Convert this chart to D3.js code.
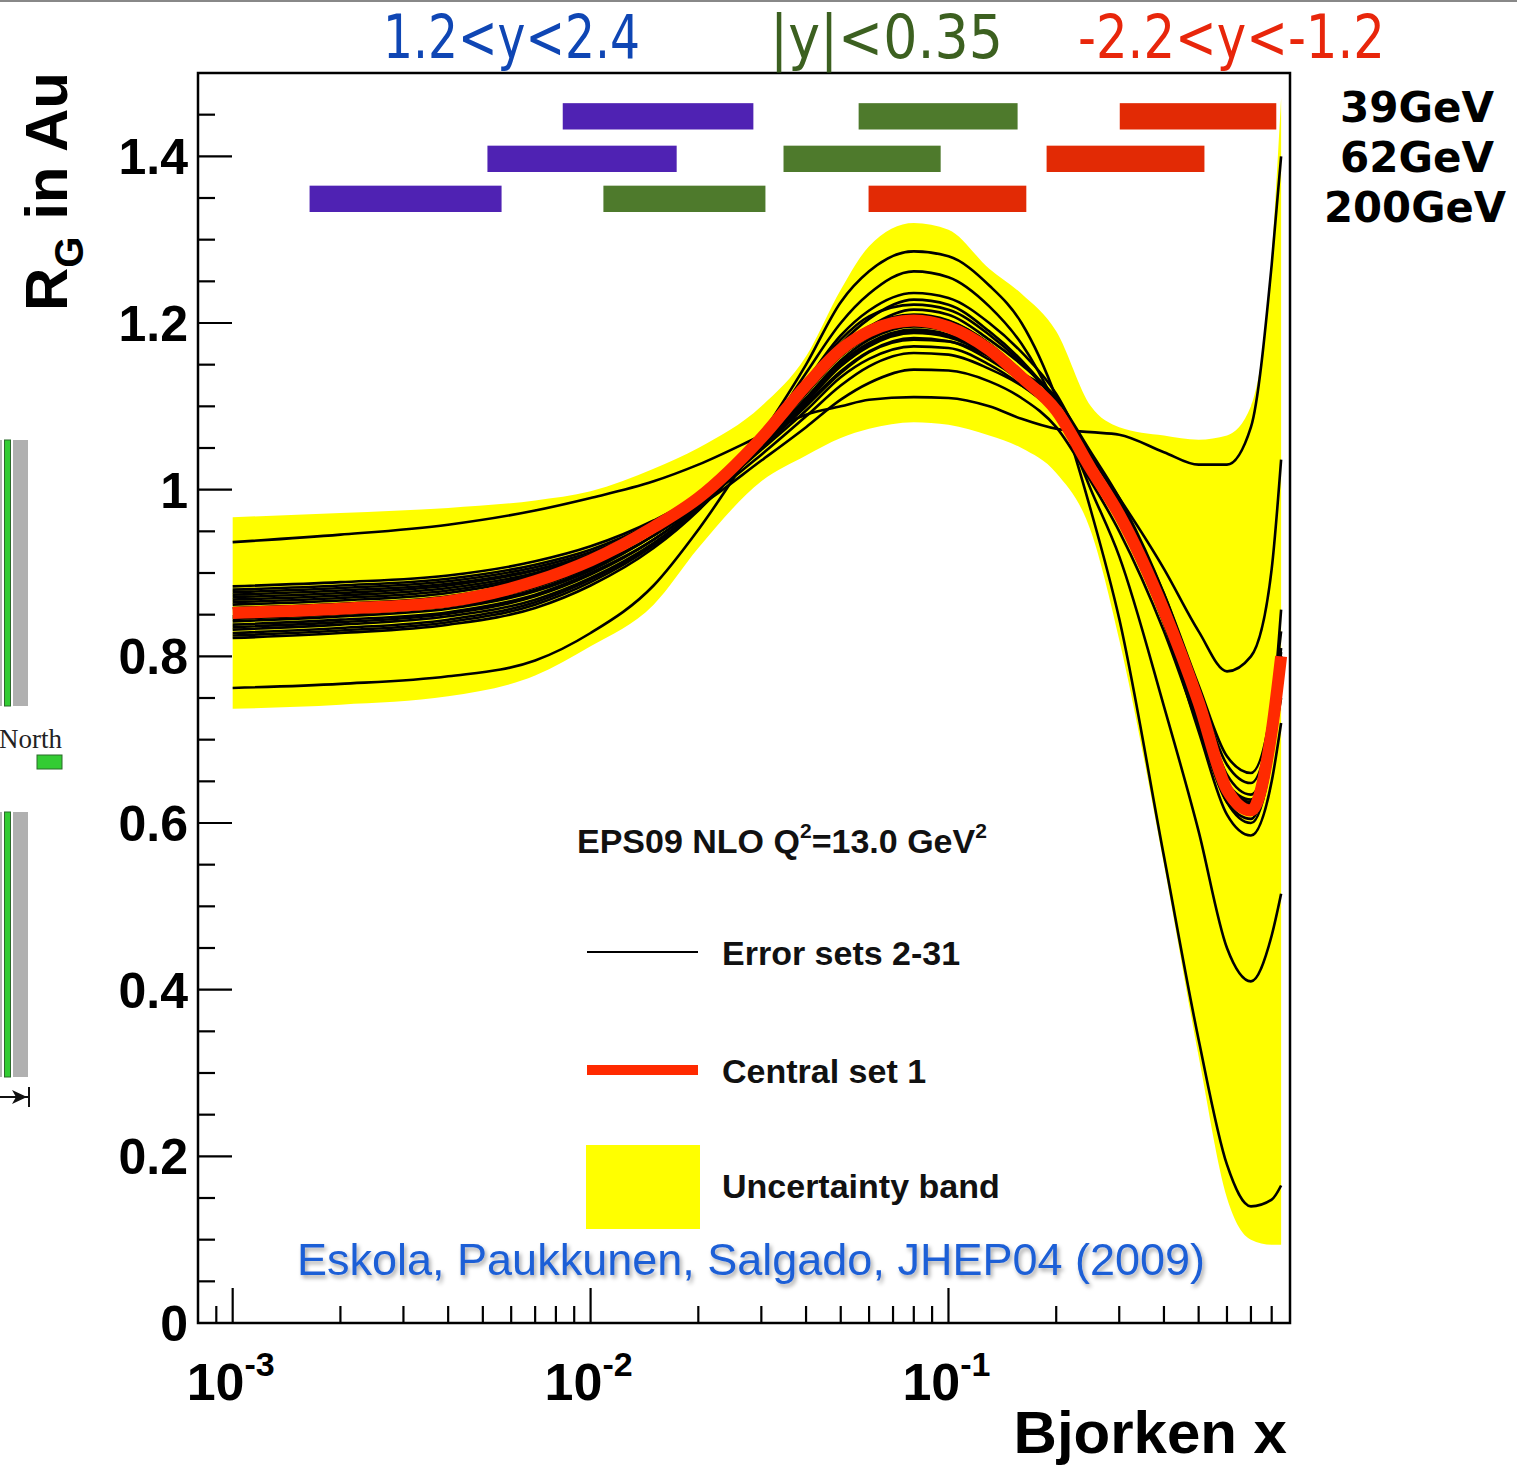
<!DOCTYPE html>
<html>
<head>
<meta charset="utf-8">
<script src="https://cdn.jsdelivr.net/npm/d3@7"></script>
<style>
  html, body { margin: 0; padding: 0; background: #ffffff; }
  svg { display: block; }
</style>
</head>
<body>
<svg id="chart" width="1517" height="1468"></svg>
<script>
// ---------------- data ----------------
const xGrid = [0.001, 0.002, 0.004, 0.007, 0.01, 0.015, 0.02, 0.03, 0.04, 0.05, 0.06, 0.08,
               0.1, 0.13, 0.16, 0.2, 0.25, 0.3, 0.4, 0.5, 0.6, 0.7, 0.8, 0.85];

const centralSet = [0.852,0.857,0.866,0.890,0.915,0.955,0.990,1.062,1.125,1.168,1.190,1.203,
                    1.195,1.168,1.135,1.095,1.025,0.970,0.855,0.745,0.640,0.615,0.710,0.800];

const bandUpper = [0.967,0.972,0.978,0.987,0.998,1.025,1.050,1.100,1.160,1.240,1.292,1.320,
                   1.312,1.265,1.235,1.190,1.100,1.075,1.065,1.060,1.065,1.100,1.280,1.470];
const bandLower = [0.737,0.742,0.752,0.777,0.812,0.862,0.930,1.010,1.041,1.062,1.073,1.081,
                   1.078,1.065,1.050,1.020,0.950,0.820,0.550,0.320,0.150,0.100,0.094,0.094];

const errSetA = [0.937,0.946,0.958,0.975,0.990,1.010,1.030,1.065,1.090,1.100,1.108,1.111,
                 1.110,1.100,1.085,1.073,1.069,1.066,1.045,1.030,1.030,1.075,1.270,1.400];
const errSetB = [0.762,0.767,0.776,0.795,0.828,0.885,0.952,1.065,1.150,1.225,1.262,1.286,
                 1.280,1.245,1.200,1.110,0.975,0.845,0.560,0.340,0.190,0.140,0.148,0.165];
const errSetC = [0.822,0.828,0.838,0.858,0.885,0.930,0.975,1.060,1.140,1.200,1.235,1.262,
                 1.255,1.220,1.175,1.100,1.000,0.920,0.740,0.590,0.450,0.410,0.465,0.515];
const errSetD = [0.828,0.834,0.844,0.865,0.892,0.935,0.978,1.060,1.130,1.185,1.215,1.236,
                 1.230,1.200,1.165,1.115,1.035,0.970,0.840,0.710,0.610,0.585,0.650,0.720];
const errSetE = [0.835,0.841,0.851,0.872,0.898,0.940,0.980,1.058,1.125,1.175,1.205,1.228,
                 1.222,1.190,1.155,1.105,1.030,0.970,0.850,0.730,0.645,0.625,0.700,0.780];
const errSetF = [0.842,0.848,0.857,0.878,0.903,0.945,0.982,1.058,1.120,1.168,1.195,1.216,
                 1.210,1.180,1.150,1.110,1.045,0.990,0.875,0.760,0.670,0.648,0.730,0.856];
const errSetG = [0.848,0.853,0.862,0.883,0.907,0.945,0.982,1.050,1.105,1.148,1.172,1.188,
                 1.183,1.160,1.130,1.090,1.020,0.960,0.840,0.720,0.625,0.600,0.680,0.780];
const errSetH = [0.858,0.863,0.872,0.893,0.916,0.950,0.985,1.050,1.100,1.140,1.165,1.180,
                 1.178,1.160,1.140,1.110,1.040,0.990,0.905,0.830,0.782,0.800,0.905,1.036];
const errSetI = [0.862,0.867,0.876,0.896,0.918,0.952,0.985,1.048,1.095,1.135,1.157,1.172,
                 1.170,1.150,1.125,1.090,1.025,0.965,0.850,0.735,0.640,0.620,0.700,0.790];
const errSetJ = [0.868,0.873,0.882,0.900,0.920,0.952,0.983,1.042,1.088,1.125,1.148,1.164,
                 1.162,1.145,1.125,1.095,1.040,0.985,0.875,0.765,0.680,0.660,0.740,0.830];
const errSetK = [0.874,0.879,0.887,0.904,0.922,0.952,0.980,1.035,1.075,1.108,1.128,1.144,
                 1.143,1.130,1.110,1.075,1.010,0.950,0.830,0.715,0.625,0.605,0.690,0.770];
const errSetL = [0.880,0.885,0.893,0.910,0.928,0.960,0.990,1.055,1.115,1.160,1.183,1.198,
                 1.190,1.165,1.130,1.090,1.020,0.965,0.850,0.740,0.640,0.620,0.710,0.800];
const errSetM = [0.884,0.889,0.897,0.914,0.932,0.963,0.993,1.060,1.125,1.172,1.196,1.210,
                 1.203,1.175,1.140,1.098,1.028,0.972,0.858,0.748,0.648,0.628,0.715,0.805];
const errSetN = [0.825,0.831,0.841,0.862,0.889,0.933,0.976,1.058,1.128,1.180,1.208,1.222,
                 1.216,1.186,1.152,1.104,1.028,0.968,0.846,0.728,0.635,0.615,0.690,0.750];
const errSetO = [0.832,0.838,0.848,0.868,0.894,0.936,0.977,1.055,1.120,1.166,1.192,1.208,
                 1.202,1.175,1.142,1.100,1.027,0.968,0.850,0.736,0.642,0.620,0.705,0.790];
const errSetP = [0.838,0.844,0.853,0.874,0.900,0.940,0.980,1.052,1.110,1.155,1.180,1.196,
                 1.190,1.165,1.135,1.094,1.024,0.966,0.850,0.738,0.638,0.612,0.700,0.790];
const errSetQ = [0.845,0.851,0.860,0.880,0.905,0.945,0.984,1.058,1.120,1.164,1.190,1.206,
                 1.199,1.172,1.140,1.098,1.026,0.970,0.856,0.744,0.645,0.622,0.706,0.800];
const errSetR = [0.865,0.870,0.879,0.898,0.919,0.953,0.987,1.052,1.108,1.150,1.174,1.190,
                 1.185,1.160,1.130,1.092,1.024,0.968,0.853,0.742,0.644,0.618,0.705,0.795];
const errSetS = [0.871,0.876,0.885,0.903,0.922,0.955,0.987,1.050,1.102,1.142,1.166,1.182,
                 1.178,1.156,1.130,1.094,1.030,0.975,0.862,0.752,0.658,0.634,0.718,0.810];
const errSetT = [0.877,0.882,0.890,0.907,0.925,0.957,0.988,1.052,1.108,1.152,1.176,1.192,
                 1.186,1.162,1.132,1.094,1.026,0.970,0.856,0.746,0.648,0.624,0.712,0.800];
const errorSets = [errSetA, errSetB, errSetC, errSetD, errSetE, errSetF, errSetG,
                   errSetH, errSetI, errSetJ, errSetK, errSetL, errSetM, errSetN,
                   errSetO, errSetP, errSetQ, errSetR, errSetS, errSetT];

const yMajorTicks = [0, 0.2, 0.4, 0.6, 0.8, 1.0, 1.2, 1.4];
const yMinorTicks = [0.05,0.1,0.15,0.25,0.3,0.35,0.45,0.5,0.55,0.65,0.7,0.75,0.85,0.9,0.95,
                     1.05,1.1,1.15,1.25,1.3,1.35,1.45];
const yTickLabels = ["0", "0.2", "0.4", "0.6", "0.8", "1", "1.2", "1.4"];
const xMajorTicks = [0.001, 0.01, 0.1];
const xTickExponents = ["-3", "-2", "-1"];
const xMinorTicks = [0.0009, 0.002,0.003,0.004,0.005,0.006,0.007,0.008,0.009,
                     0.02,0.03,0.04,0.05,0.06,0.07,0.08,0.09,
                     0.2,0.3,0.4,0.5,0.6,0.7,0.8];

// x-coverage of the rapidity bins for each beam energy
const energies = ["39GeV", "62GeV", "200GeV"];
const rapidityBins = ["1.2<y<2.4", "|y|<0.35", "-2.2<y<-1.2"];
const coverageLow  = [[0.00836, 0.0561, 0.301], [0.00515, 0.0346, 0.188], [0.00164, 0.01086, 0.0598]];
const coverageHigh = [[0.0285, 0.156, 0.824], [0.0174, 0.0951, 0.519], [0.00564, 0.0308, 0.165]];
const coverageLevel = [1.448, 1.397, 1.349];

// ---------------- drawing ----------------
const svg = d3.select("#chart");
const P = {l: 198, r: 1290, t: 73, b: 1323};
const x = d3.scaleLog().domain([0.0008, 0.9]).range([P.l, P.r]);
const y = d3.scaleLinear().domain([0, 1.5]).range([P.b, P.t]);

const FONT = "'Liberation Sans', Arial, Helvetica, sans-serif";
const HAND = "'DejaVu Sans', 'Noto Sans', sans-serif";
const binColors = ["#4f22b3", "#4e7a2c", "#e22a05"];
const headColors = ["#0f46b4", "#3c6020", "#e8260b"];

// top grey rule
svg.append("rect").attr("x", 0).attr("y", 0).attr("width", 1517).attr("height", 2).attr("fill", "#888");

// left cut-off artefacts
const art = svg.append("g");
[[440, 706], [812, 1077]].forEach(([a, b]) => {
  art.append("rect").attr("x", 0).attr("y", a).attr("width", 2).attr("height", b - a).attr("fill", "#b5b5b5");
  art.append("rect").attr("x", 4.5).attr("y", a).attr("width", 6).attr("height", b - a)
     .attr("fill", "#33cc33").attr("stroke", "#2a6a2a").attr("stroke-width", 1);
  art.append("rect").attr("x", 13).attr("y", a).attr("width", 15).attr("height", b - a).attr("fill", "#b0b0b0");
});
art.append("text").attr("x", -1).attr("y", 748).attr("font-family", "'Liberation Serif', 'DejaVu Serif', serif")
   .attr("font-size", 27).attr("fill", "#222").text("North");
art.append("rect").attr("x", 37).attr("y", 755).attr("width", 25).attr("height", 14)
   .attr("fill", "#33cc33").attr("stroke", "#2a6a2a").attr("stroke-width", 1);
art.append("line").attr("x1", 0).attr("x2", 28).attr("y1", 1097).attr("y2", 1097).attr("stroke", "#111").attr("stroke-width", 2);
art.append("path").attr("d", "M12,1090 L27,1097 L12,1104 L16,1097 Z").attr("fill", "#111");
art.append("line").attr("x1", 29).attr("x2", 29).attr("y1", 1087).attr("y2", 1107).attr("stroke", "#111").attr("stroke-width", 2);

// clip
const defs = svg.append("defs");
defs.append("clipPath").attr("id", "plotclip")
  .append("rect").attr("x", P.l).attr("y", P.t).attr("width", P.r - P.l).attr("height", P.b - P.t);

const gPlot = svg.append("g").attr("clip-path", "url(#plotclip)");

const band = d3.area()
  .x((d, i) => x(xGrid[i]))
  .y0((d, i) => y(bandLower[i]))
  .y1((d, i) => y(bandUpper[i]))
  .curve(d3.curveMonotoneX);
gPlot.append("path").datum(xGrid).attr("d", band).attr("fill", "#ffff00");

const line = d3.line()
  .x((d, i) => x(xGrid[i]))
  .y(d => y(d))
  .curve(d3.curveMonotoneX);

gPlot.selectAll(".err").data(errorSets).join("path")
  .attr("class", "err").attr("d", line).attr("fill", "none")
  .attr("stroke", "#000").attr("stroke-width", 2.6);

gPlot.append("path").datum(centralSet).attr("d", line).attr("fill", "none")
  .attr("stroke", "#ff2a00").attr("stroke-width", 12);

// coverage bars
coverageLow.forEach((row, r) => {
  row.forEach((lo, c) => {
    const hi = coverageHigh[r][c];
    svg.append("rect")
      .attr("x", x(lo)).attr("width", x(hi) - x(lo))
      .attr("y", y(coverageLevel[r] + 0.0158)).attr("height", y(coverageLevel[r] - 0.0158) - y(coverageLevel[r] + 0.0158))
      .attr("fill", binColors[c]);
  });
});

// frame
svg.append("rect").attr("x", P.l).attr("y", P.t).attr("width", P.r - P.l).attr("height", P.b - P.t)
  .attr("fill", "none").attr("stroke", "#000").attr("stroke-width", 2.5);

// ticks
const gAx = svg.append("g").attr("stroke", "#000").attr("stroke-width", 2.2);
yMajorTicks.forEach(v => gAx.append("line").attr("x1", P.l).attr("x2", P.l + 34).attr("y1", y(v)).attr("y2", y(v)));
yMinorTicks.forEach(v => gAx.append("line").attr("x1", P.l).attr("x2", P.l + 17).attr("y1", y(v)).attr("y2", y(v)));
xMajorTicks.forEach(v => gAx.append("line").attr("x1", x(v)).attr("x2", x(v)).attr("y1", P.b).attr("y2", P.b - 35));
xMinorTicks.forEach(v => gAx.append("line").attr("x1", x(v)).attr("x2", x(v)).attr("y1", P.b).attr("y2", P.b - 17));

svg.append("g").selectAll("text").data(yMajorTicks).join("text")
  .attr("x", 188).attr("y", v => y(v) + 18)
  .attr("text-anchor", "end").attr("font-family", FONT).attr("font-weight", "bold")
  .attr("font-size", 50).attr("fill", "#000")
  .text((v, i) => yTickLabels[i]);

xMajorTicks.forEach((v, i) => {
  const t = svg.append("text").attr("x", x(v) - 2).attr("y", 1400).attr("text-anchor", "middle")
    .attr("font-family", FONT).attr("font-weight", "bold").attr("font-size", 52).attr("fill", "#000");
  t.append("tspan").text("10");
  t.append("tspan").attr("dy", -24).attr("font-size", 34).text(xTickExponents[i]);
});

// axis titles
svg.append("text").attr("x", 1287).attr("y", 1453).attr("text-anchor", "end")
  .attr("font-family", FONT).attr("font-weight", "bold").attr("font-size", 60).text("Bjorken x");

const yt = svg.append("text").attr("transform", "translate(67,311) rotate(-90)")
  .attr("font-family", FONT).attr("font-weight", "bold").attr("font-size", 60);
yt.append("tspan").text("R");
yt.append("tspan").attr("dy", 16).attr("font-size", 40).text("G");
yt.append("tspan").attr("dy", -16).text(" in Au");

// legend
const lg = svg.append("g").attr("font-family", FONT).attr("font-weight", "bold").attr("fill", "#111");
const hdr = lg.append("text").attr("x", 577).attr("y", 853).attr("font-size", 34);
hdr.append("tspan").text("EPS09 NLO Q");
hdr.append("tspan").attr("dy", -15).attr("font-size", 21).text("2");
hdr.append("tspan").attr("dy", 15).text("=13.0 GeV");
hdr.append("tspan").attr("dy", -15).attr("font-size", 21).text("2");

lg.append("line").attr("x1", 587).attr("x2", 698).attr("y1", 952).attr("y2", 952).attr("stroke", "#000").attr("stroke-width", 2.2);
lg.append("text").attr("x", 722).attr("y", 965).attr("font-size", 34).text("Error sets 2-31");
lg.append("line").attr("x1", 587).attr("x2", 698).attr("y1", 1070).attr("y2", 1070).attr("stroke", "#ff2a00").attr("stroke-width", 10);
lg.append("text").attr("x", 722).attr("y", 1083).attr("font-size", 34).text("Central set 1");
lg.append("rect").attr("x", 586).attr("y", 1145).attr("width", 114).attr("height", 84).attr("fill", "#ffff00");
lg.append("text").attr("x", 722).attr("y", 1198).attr("font-size", 34).text("Uncertainty band");

// citation with soft shadow
const f = defs.append("filter").attr("id", "shadow").attr("x", "-5%").attr("y", "-30%").attr("width", "110%").attr("height", "160%");
f.append("feDropShadow").attr("dx", 2).attr("dy", 3).attr("stdDeviation", 2).attr("flood-color", "#000").attr("flood-opacity", 0.35);
svg.append("text").attr("x", 297).attr("y", 1275).attr("font-family", FONT).attr("font-size", 45)
  .attr("fill", "#1f5fd6").attr("filter", "url(#shadow)")
  .text("Eskola, Paukkunen, Salgado, JHEP04 (2009)");

// rapidity headers
const headX = [383, 770, 1078];
const headW = [257, 233, 307];
rapidityBins.forEach((t, i) => {
  svg.append("text").attr("x", headX[i]).attr("y", 58)
    .attr("font-family", HAND).attr("font-size", 60).attr("fill", headColors[i])
    .attr("textLength", headW[i]).attr("lengthAdjust", "spacingAndGlyphs").text(t);
});

// energy labels
const eY = [122, 172, 222];
const eX = [1340, 1340, 1324];
const eW = [154, 154, 182];
energies.forEach((t, i) => {
  svg.append("text").attr("x", eX[i]).attr("y", eY[i])
    .attr("font-family", HAND).attr("font-weight", "bold").attr("font-size", 43).attr("fill", "#000")
    .attr("textLength", eW[i]).attr("lengthAdjust", "spacingAndGlyphs").text(t);
});
</script>
</body>
</html>
